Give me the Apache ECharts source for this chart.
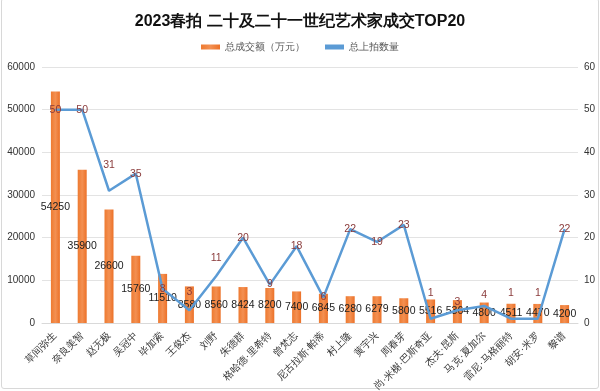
<!DOCTYPE html>
<html>
<head>
<meta charset="utf-8">
<script src="https://cdn.jsdelivr.net/npm/echarts@6/dist/echarts.min.js"></script>
<style>
html,body{margin:0;padding:0;background:#fff;}
#frame{position:absolute;left:1px;top:-2px;width:596px;height:389px;border:1px solid #d8d8d8;border-radius:3px;}
#chart{position:absolute;left:0;top:0;width:600px;height:391px;}
</style>
</head>
<body>
<div id="frame"></div>
<div id="chart"></div>
<script>
const categories = ['草间弥生','奈良美智','赵无极','吴冠中','毕加索','王俊杰','刘野','朱德群','格哈德·里希特','曾梵志','尼古拉斯·帕蒂','村上隆','黄宇兴','周春芽','尚·米榭·巴斯奇亚','杰夫·昆斯','马克·夏加尔','雷尼·马格丽特','胡安·米罗','黎谱'];
const totalAmount = [54250,35900,26600,15760,11510,8580,8560,8424,8200,7400,6845,6280,6279,5800,5516,5364,4800,4511,4470,4200];
const lotCount = [50,50,31,35,8,3,11,20,9,18,6,22,19,23,1,3,4,1,1,22];
const leftTicks = [0,10000,20000,30000,40000,50000,60000];
const rightTicks = [0,10,20,30,40,50,60];

// label lift (px) for some line labels, as in the reference
const lift = {2:26, 5:18, 6:18, 14:26, 15:8, 16:11, 17:26, 18:26};

const chart = echarts.init(document.getElementById('chart'), null, {renderer:'canvas'});
const font = '"Liberation Sans", Arial, sans-serif';
chart.setOption({
  animation:false,
  textStyle:{fontFamily:font},
  title:{text:'2023春拍 二十及二十一世纪艺术家成交TOP20',left:'center',top:9,
    textStyle:{fontSize:16,fontWeight:'bold',color:'#111',fontFamily:font}},
  legend:{top:37,left:'center',itemWidth:19,itemHeight:5,itemGap:20,
    textStyle:{fontSize:10,color:'#555'},
    data:[{name:'总成交额（万元）',icon:'rect'},{name:'总上拍数量',icon:'rect',itemStyle:{color:'#5B9BD5'}}]},
  grid:{left:42,right:22,top:67,bottom:68,containLabel:false,outerBoundsMode:'none'},
  xAxis:{type:'category',data:categories,
    axisLine:{lineStyle:{color:'#d9d9d9'}},axisTick:{show:false},
    axisLabel:{rotate:45,fontSize:10,color:'#333',interval:0,margin:11}},
  yAxis:[
    {type:'value',min:0,max:60000,interval:10000,
      axisLine:{show:false},axisTick:{show:false},
      axisLabel:{fontSize:10,color:'#333',margin:7,formatter:v=>String(v)},
      splitLine:{lineStyle:{color:'#e3e3e3'}}},
    {type:'value',min:0,max:60,interval:10,
      axisLine:{show:false},axisTick:{show:false},
      axisLabel:{fontSize:10,color:'#333',margin:6,formatter:v=>String(v)},
      splitLine:{show:false}}
  ],
  series:[
    {name:'总成交额（万元）',type:'bar',yAxisIndex:0,barWidth:9,
      data:totalAmount,
      itemStyle:{color:new echarts.graphic.LinearGradient(0,0,1,0,[
        {offset:0,color:'#EE7A30'},{offset:0.5,color:'#F39052'},{offset:1,color:'#EC7128'}])},
      label:{show:true,position:'inside',color:'#222',fontSize:10.5,formatter:p=>String(p.value)}},
    {name:'总上拍数量',type:'line',yAxisIndex:1,symbol:'circle',symbolSize:1,showSymbol:true,
      lineStyle:{color:'#5B9BD5',width:2.5},itemStyle:{color:'#5B9BD5'},
      data:lotCount.map((v,i)=>({value:v,label:{offset:[0,-(lift[i]||0)]}})),
      label:{show:true,position:'inside',color:'#8A3B3B',fontSize:10.5},
      z:3}
  ]
});
</script>
</body>
</html>
